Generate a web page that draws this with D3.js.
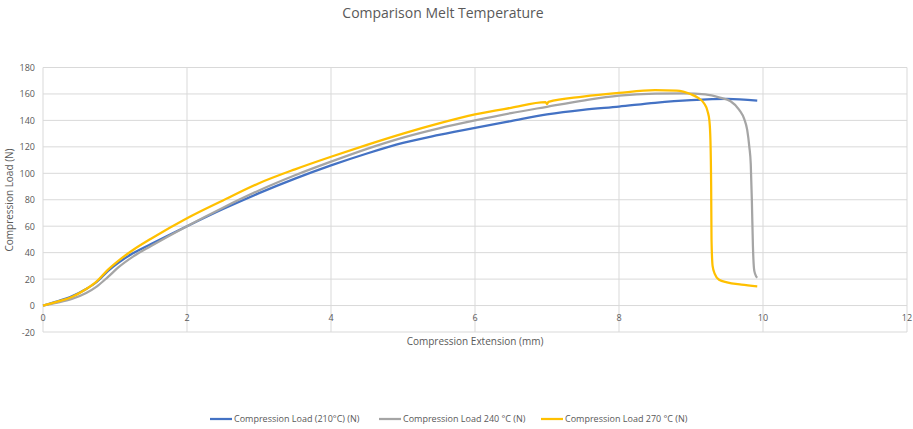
<!DOCTYPE html>
<html>
<head>
<meta charset="utf-8">
<script src="https://cdn.jsdelivr.net/npm/d3@7"></script>
<style>
  body { margin: 0; background: #fff; }
  text { font-family: "Open Sans", "Noto Sans", sans-serif; fill: #595959; }
</style>
</head>
<body>
<script>
// Data
const xTicks = [0, 2, 4, 6, 8, 10, 12];
const yTicks = [-20, 0, 20, 40, 60, 80, 100, 120, 140, 160, 180];

const blueX = [0, 0.2, 0.4, 0.6, 0.75, 0.9, 1.05, 1.25, 1.5, 2, 2.5, 3, 3.5, 4, 4.5, 5, 5.5, 6, 6.5, 7, 7.5, 8, 8.5, 9, 9.5, 9.92];
const blueY = [0, 3.2, 7, 12.5, 18, 26, 32.5, 39.5, 46.5, 60, 73, 85, 96, 106, 115, 123, 129, 134.4, 139.5, 144.5, 148, 150.5, 153.3, 155.3, 156.3, 155];

const grayX = [0, 0.2, 0.4, 0.6, 0.75, 0.9, 1.05, 1.25, 1.5, 2, 2.5, 3, 3.5, 4, 4.5, 5, 5.5, 6, 6.5, 7, 7.5, 8, 8.5, 8.9, 9.2, 9.4, 9.55, 9.67, 9.74, 9.78, 9.81, 9.83, 9.845, 9.86, 9.875, 9.89, 9.92];
const grayY = [0, 2.2, 5, 9.5, 14.5, 21.5, 29, 37, 45, 60, 74, 87, 98.5, 108.8, 118.5, 127, 134, 140, 145.5, 150.3, 155, 158.8, 160.3, 160.5, 159.6, 157.2, 154.5, 148, 141, 133, 120, 107, 80, 45, 28, 24, 21];

const yellowX = [0, 0.2, 0.4, 0.6, 0.75, 0.9, 1.05, 1.25, 1.5, 2, 2.5, 3, 3.5, 4, 4.5, 5, 5.5, 6, 6.5, 6.98, 7.0, 7.02, 7.5, 8, 8.5, 8.8, 9.0, 9.1, 9.18, 9.23, 9.255, 9.27, 9.28, 9.285, 9.3, 9.33, 9.39, 9.5, 9.7, 9.92];
const yellowY = [0, 3, 6.5, 12.5, 18.5, 27, 34, 42, 50.5, 66, 79.5, 92.5, 103, 112.5, 121.5, 130, 137.7, 144.5, 149.5, 153.8, 152.4, 154, 158, 160.8, 162.8, 162.6, 159.8, 157, 153, 147, 140, 125, 90, 50, 30, 24, 19.5, 17.5, 15.8, 14.5];

const seriesNames = ["Compression Load (210°C) (N)", "Compression Load 240 °C (N)", "Compression Load 270 °C (N)"];
const seriesColors = ["#4472C4", "#A5A5A5", "#FFC000"];

const series = [
  blueX.map((x, i) => ({ x: x, y: blueY[i] })),
  grayX.map((x, i) => ({ x: x, y: grayY[i] })),
  yellowX.map((x, i) => ({ x: x, y: yellowY[i] }))
];

const width = 913;
const height = 429;

const svg = d3.select("body").append("svg")
    .attr("width", width)
    .attr("height", height);

const x = d3.scaleLinear().domain([0, 12]).range([43, 907]);
const y = d3.scaleLinear().domain([-20, 180]).range([332, 67.5]);

// Title
svg.append("text")
    .attr("x", 443)
    .attr("y", 18)
    .attr("text-anchor", "middle")
    .style("font-size", "14px")
    .text("Comparison Melt Temperature");

// Gridlines
svg.append("g")
    .selectAll("line")
    .data(yTicks)
    .enter().append("line")
    .attr("x1", x(0))
    .attr("x2", x(12))
    .attr("y1", d => y(d))
    .attr("y2", d => y(d))
    .attr("stroke", "#D9D9D9")
    .attr("stroke-width", 1);

svg.append("g")
    .selectAll("line")
    .data(xTicks)
    .enter().append("line")
    .attr("x1", d => x(d))
    .attr("x2", d => x(d))
    .attr("y1", y(180))
    .attr("y2", y(-20))
    .attr("stroke", "#D9D9D9")
    .attr("stroke-width", 1);

// Tick labels
svg.append("g")
    .selectAll("text")
    .data(yTicks)
    .enter().append("text")
    .attr("x", 35)
    .attr("y", d => y(d) + 3.5)
    .attr("text-anchor", "end")
    .style("font-size", "9px")
    .text(d => d);

svg.append("g")
    .selectAll("text")
    .data(xTicks)
    .enter().append("text")
    .attr("x", d => x(d))
    .attr("y", y(0) + 15)
    .attr("text-anchor", "middle")
    .style("font-size", "9px")
    .text(d => d);

// Axis titles
svg.append("text")
    .attr("x", 475)
    .attr("y", 345)
    .attr("text-anchor", "middle")
    .style("font-size", "10px")
    .text("Compression Extension (mm)");

svg.append("text")
    .attr("transform", "translate(13,200) rotate(-90)")
    .attr("text-anchor", "middle")
    .style("font-size", "10px")
    .text("Compression Load (N)");

// Lines
const line = d3.line()
    .x(d => x(d.x))
    .y(d => y(d.y))
    .curve(d3.curveMonotoneX);

svg.append("g")
    .selectAll("path")
    .data(series)
    .enter().append("path")
    .attr("d", line)
    .attr("fill", "none")
    .attr("stroke", (d, i) => seriesColors[i])
    .attr("stroke-width", 2.25)
    .attr("stroke-linejoin", "round");

// Legend
const legendX = [210, 379, 541];
const legend = svg.append("g")
    .selectAll("g")
    .data(seriesNames)
    .enter().append("g")
    .attr("transform", (d, i) => `translate(${legendX[i]},419)`);

legend.append("line")
    .attr("x1", 0)
    .attr("x2", 22)
    .attr("stroke", (d, i) => seriesColors[i])
    .attr("stroke-width", 2.25);

legend.append("text")
    .attr("x", 24)
    .attr("y", 3)
    .style("font-size", "9px")
    .text(d => d);
</script>
</body>
</html>
